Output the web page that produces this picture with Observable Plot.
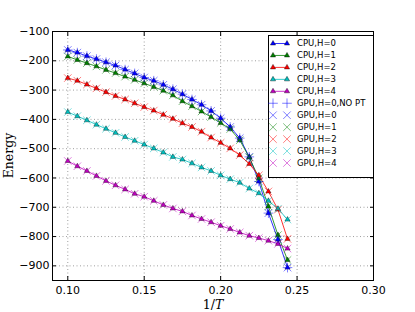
<!DOCTYPE html>
<html><head><meta charset="utf-8">
<script src="https://cdn.jsdelivr.net/npm/d3@7"></script>
<script src="https://cdn.jsdelivr.net/npm/@observablehq/plot@0.6"></script>
<style>body{margin:0;background:#fff} #chart{width:415px;height:312px;position:relative}</style>
</head><body><div id="chart"></div>
<script>
const invT = [0.1, 0.10625, 0.1125, 0.11875, 0.125, 0.13125, 0.1375, 0.14375, 0.15, 0.15625, 0.1625, 0.16875,
  0.175, 0.18125, 0.1875, 0.19375, 0.2, 0.20625, 0.2125, 0.21875, 0.225, 0.23125, 0.2375, 0.24375];
const cpuH0 = [-163,-172,-184,-194,-205,-216,-230,-243,-257,-268,-282,-297,-314,-332,-350,-371,-396,-426,-464,-528,-612,-720,-810,-906];
const cpuH1 = [-185,-197,-208,-219,-231,-242,-254,-265,-277,-289,-302,-318,-338,-355,-373,-392,-412,-433,-471,-530,-601,-697,-795,-880];
const cpuH2 = [-259,-268,-281,-294,-307,-320,-332,-345,-358,-370,-384,-398,-413,-426,-442,-462,-480,-499,-522,-552,-591,-646,-708,-808];
const cpuH3 = [-375,-389,-403,-418,-432,-446,-460,-473,-486,-499,-513,-528,-537,-550,-564,-576,-591,-604,-616,-636,-652,-678,-705,-742];
const cpuH4 = [-542,-560,-576,-593,-610,-625,-639,-654,-664,-678,-692,-704,-714,-728,-740,-751,-763,-774,-786,-797,-805,-814,-825,-841];
// GPU results coincide with the CPU results in the picture
const gpuH0NoPT = cpuH0;
const gpuH0 = cpuH0, gpuH1 = cpuH1, gpuH2 = cpuH2, gpuH3 = cpuH3, gpuH4 = cpuH4;

const cpuSeries = [cpuH0, cpuH1, cpuH2, cpuH3, cpuH4];
const gpuSeries = [gpuH0, gpuH1, gpuH2, gpuH3, gpuH4];
const colors = ["#0000ff", "#008000", "#ff0000", "#00bfbf", "#bf00bf"];
const cpuLabels = ["CPU,H=0", "CPU,H=1", "CPU,H=2", "CPU,H=3", "CPU,H=4"];
const noPtLabel = "GPU,H=0,NO PT";
const gpuLabels = ["GPU,H=0", "GPU,H=1", "GPU,H=2", "GPU,H=3", "GPU,H=4"];
const xTicks = [0.10, 0.15, 0.20, 0.25, 0.30];
const yTicks = [-900, -800, -700, -600, -500, -400, -300, -200, -100];

const rows = arr => arr.map((y, i) => ({x: invT[i], y}));

const marks = [
  Plot.gridX(xTicks, {stroke: "#000", strokeOpacity: 0.55, strokeWidth: 0.7, strokeDasharray: "1,2.5"}),
  Plot.gridY(yTicks, {stroke: "#000", strokeOpacity: 0.55, strokeWidth: 0.7, strokeDasharray: "1,2.5"}),
];
cpuSeries.forEach((s, k) => {
  marks.push(Plot.line(rows(s), {x: "x", y: "y", stroke: colors[k], strokeWidth: 1, strokeOpacity: 0.8}));
  marks.push(Plot.dot(rows(s), {x: "x", y: "y", symbol: "triangle2", r: 2.5, fill: colors[k], stroke: "#000", strokeWidth: 0.4}));
});
marks.push(Plot.dot(rows(gpuH0NoPT), {x: "x", y: "y", symbol: "plus", r: 3.2, stroke: "#0000ff", strokeOpacity: 0.5, strokeWidth: 1}));
gpuSeries.forEach((s, k) => {
  marks.push(Plot.dot(rows(s), {x: "x", y: "y", symbol: "times", r: 3.5, stroke: colors[k], strokeOpacity: 0.5, strokeWidth: 1}));
});
marks.push(
  Plot.axisX(xTicks, {anchor: "bottom", tickSize: 0, tickPadding: 6, tickFormat: d3.format(".2f"), label: null, fontSize: 11}),
  Plot.axisY(yTicks, {anchor: "left", tickSize: 0, tickPadding: 3, tickFormat: d3.format("d"), label: null, fontSize: 11}),
  Plot.axisX(xTicks, {anchor: "bottom", tickSize: -4, tickFormat: () => "", label: null}),
  Plot.axisX(xTicks, {anchor: "top", tickSize: -4, tickFormat: () => "", label: null}),
  Plot.axisY(yTicks, {anchor: "left", tickSize: -4, tickFormat: () => "", label: null}),
  Plot.axisY(yTicks, {anchor: "right", tickSize: -4, tickFormat: () => "", label: null}),
  Plot.frame({stroke: "#000", strokeWidth: 1})
);

const chart = Plot.plot({
  width: 415, height: 312,
  marginLeft: 52, marginRight: 42, marginTop: 31, marginBottom: 32,
  style: {fontFamily: "'DejaVu Sans', sans-serif", fontSize: "11px", background: "#fff", color: "#000"},
  x: {domain: [0.09, 0.30]},
  y: {domain: [-950, -100]},
  marks
});
document.getElementById("chart").appendChild(chart);

const svg = d3.select(chart);
// axis labels
svg.append("text").attr("transform", "translate(13,155.5) rotate(-90)")
  .attr("text-anchor", "middle").attr("font-family", "'DejaVu Serif', serif").attr("font-size", 12.5)
  .attr("fill", "#000").text("Energy");
const xl = svg.append("text").attr("x", 213).attr("y", 309).attr("text-anchor", "middle")
  .attr("font-family", "'DejaVu Serif', serif").attr("font-size", 12.5).attr("fill", "#000");
xl.append("tspan").text("1/");
xl.append("tspan").attr("font-style", "italic").text("T");

// legend
const lg = svg.append("g").attr("font-family", "'DejaVu Sans', sans-serif").attr("font-size", 8.5)
  .attr("text-anchor", "start").attr("fill", "#000");
lg.append("rect").attr("x", 268.5).attr("y", 35.5).attr("width", 105).attr("height", 142)
  .attr("fill", "#fff").attr("stroke", "#000").attr("stroke-width", 1);
const x1 = 273, x2 = 287, tx = 297, y0 = 43.5, dy = 11.95;
const tri = d3.symbol(d3.symbolTriangle2, Math.PI * 2.5 * 2.5)();
const times = d3.symbol(d3.symbolTimes, Math.PI * 3.5 * 3.5)();
const plus = d3.symbol(d3.symbolPlus, Math.PI * 3.2 * 3.2)();
let row = 0;
cpuLabels.forEach((lab, k) => {
  const y = y0 + row * dy;
  lg.append("line").attr("x1", x1).attr("x2", x2).attr("y1", y).attr("y2", y).attr("stroke", colors[k]).attr("stroke-opacity", 0.8);
  [x1, x2].forEach(x => lg.append("path").attr("d", tri).attr("transform", `translate(${x},${y})`)
    .attr("fill", colors[k]).attr("stroke", "#000").attr("stroke-width", 0.4));
  lg.append("text").attr("x", tx).attr("y", y).attr("dy", "0.35em").text(lab);
  row++;
});
{
  const y = y0 + row * dy;
  [x1, x2].forEach(x => lg.append("path").attr("d", plus).attr("transform", `translate(${x},${y})`)
    .attr("fill", "none").attr("stroke", "#0000ff").attr("stroke-opacity", 0.5));
  lg.append("text").attr("x", tx).attr("y", y).attr("dy", "0.35em").text(noPtLabel);
  row++;
}
gpuLabels.forEach((lab, k) => {
  const y = y0 + row * dy;
  [x1, x2].forEach(x => lg.append("path").attr("d", times).attr("transform", `translate(${x},${y})`)
    .attr("fill", "none").attr("stroke", colors[k]).attr("stroke-opacity", 0.5));
  lg.append("text").attr("x", tx).attr("y", y).attr("dy", "0.35em").text(lab);
  row++;
});
</script>
</body></html>
